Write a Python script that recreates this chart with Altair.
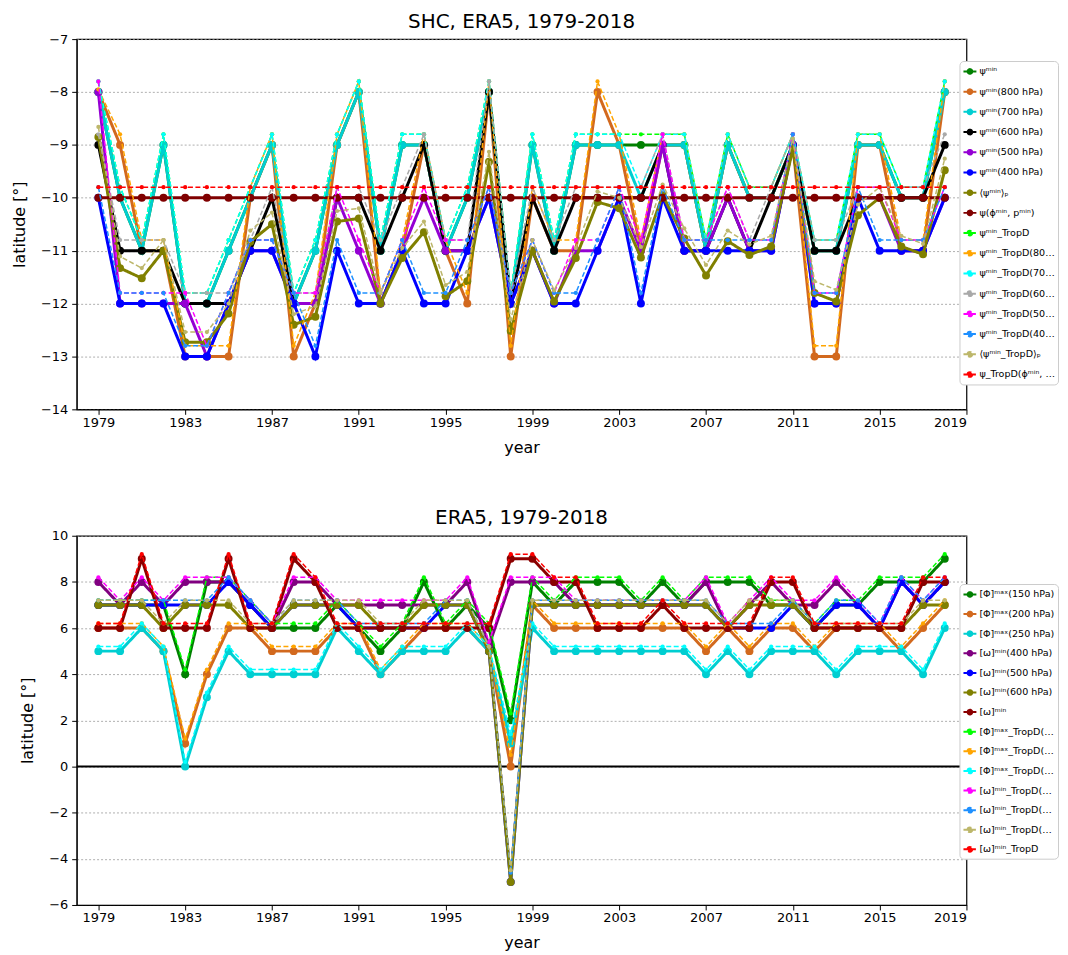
import altair as alt
import pandas as pd

years = list(range(1979, 2019))

# ---------------- top panel (SHC, ERA5) ----------------
top_names = [
    "ψᵐⁱⁿ", "ψᵐⁱⁿ(800 hPa)", "ψᵐⁱⁿ(700 hPa)", "ψᵐⁱⁿ(600 hPa)",
    "ψᵐⁱⁿ(500 hPa)", "ψᵐⁱⁿ(400 hPa)", "⟨ψᵐⁱⁿ⟩ₚ", "ψ(ϕᵐⁱⁿ, pᵐⁱⁿ)",
    "ψᵐⁱⁿ_TropD", "ψᵐⁱⁿ_TropD(800 hPa)", "ψᵐⁱⁿ_TropD(700 hPa)", "ψᵐⁱⁿ_TropD(600 hPa)",
    "ψᵐⁱⁿ_TropD(500 hPa)", "ψᵐⁱⁿ_TropD(400 hPa)", "⟨ψᵐⁱⁿ_TropD⟩ₚ", "ψ_TropD(ϕᵐⁱⁿ, pᵐⁱⁿ)",
]
top_colors = ["#008000", "#d2691e", "#00ced1", "#000000", "#9400d3", "#0000ff", "#808000", "#800000",
              "#00ff00", "#ffa500", "#00ffff", "#a9a9a9", "#ff00ff", "#1e90ff", "#bdb76b", "#ff0000"]
top_dashed = [False] * 8 + [True] * 8

psi_min = [-8, -10, -11, -9, -12, -12, -11, -10, -9, -12,
           -11, -9, -8, -11, -9, -9, -11, -10, -8, -12,
           -9, -11, -9, -9, -9, -9, -9, -9, -11, -9,
           -10, -10, -9, -11, -11, -9, -9, -10, -10, -8]
psi_800 = [-8, -9, -11, -11, -13, -13, -13, -10, -9, -13,
           -12, -9, -8, -12, -11, -9, -11, -12, -8, -13,
           -10, -11, -11, -8, -9, -11, -9, -9, -11, -9,
           -10, -10, -9, -13, -13, -9, -9, -11, -11, -8]
psi_700 = [-8, -10, -11, -9, -12, -12, -11, -10, -9, -12,
           -11, -9, -8, -11, -9, -9, -11, -10, -8, -12,
           -9, -11, -9, -9, -9, -10, -9, -9, -11, -9,
           -10, -10, -9, -11, -11, -9, -9, -10, -10, -8]
psi_600 = [-9, -11, -11, -11, -12, -12, -12, -11, -10, -12,
           -12, -10, -10, -11, -10, -9, -11, -11, -8, -12,
           -10, -11, -10, -10, -10, -10, -9, -11, -11, -10,
           -11, -10, -9, -11, -11, -10, -10, -10, -10, -9]
psi_500 = [-8, -12, -12, -12, -12, -13, -12, -11, -11, -12,
           -12, -10, -11, -12, -11, -10, -11, -11, -10, -12,
           -11, -12, -11, -11, -10, -11, -9, -11, -11, -10,
           -11, -11, -9, -12, -12, -10, -10, -11, -11, -10]
psi_400 = [-10, -12, -12, -12, -13, -13, -12, -11, -11, -12,
           -13, -11, -12, -12, -11, -12, -12, -11, -10, -12,
           -11, -12, -12, -11, -10, -12, -10, -11, -11, -11,
           -11, -11, -9, -12, -12, -10, -11, -11, -11, -10]
psi_p = [-8.85, -11.33, -11.52, -11.0, -12.73, -12.73, -12.19, -10.83, -10.50, -12.40,
         -12.25, -10.45, -10.39, -12.0, -11.14, -10.65, -11.86, -11.58, -9.32, -12.52,
         -11.0, -11.96, -11.14, -10.08, -10.20, -11.13, -9.95, -10.77, -11.47, -10.82,
         -11.08, -10.92, -9.07, -11.80, -11.96, -10.33, -10.0, -10.92, -11.07, -9.48]
psi_phi = [-10, -10, -10, -10, -10, -10, -10, -10, -10, -10,
           -10, -10, -10, -10, -10, -10, -10, -10, -10, -10,
           -10, -10, -10, -10, -10, -10, -10, -10, -10, -10,
           -10, -10, -10, -10, -10, -10, -10, -10, -10, -10]
td_min = [-7.8, -9.8, -10.8, -8.8, -11.8, -11.8, -10.8, -9.8, -8.8, -11.8,
          -10.8, -8.8, -7.8, -10.8, -8.8, -8.8, -10.8, -9.8, -7.8, -11.8,
          -8.8, -10.8, -8.8, -8.8, -8.8, -8.8, -8.8, -8.8, -10.8, -8.8,
          -9.8, -9.8, -8.8, -10.8, -10.8, -8.8, -8.8, -9.8, -9.8, -7.8]
td_800 = [-7.95, -8.8, -10.8, -10.8, -12.8, -12.8, -12.8, -9.8, -8.8, -12.8,
          -11.8, -8.8, -7.8, -11.8, -10.8, -8.8, -10.8, -11.8, -7.8, -12.8,
          -9.8, -10.8, -10.8, -7.8, -8.8, -10.8, -8.8, -8.8, -10.8, -8.8,
          -9.8, -9.8, -8.8, -12.8, -12.8, -8.8, -8.8, -10.8, -10.8, -7.8]
td_700 = [-7.8, -9.8, -10.8, -8.8, -11.8, -11.8, -10.8, -9.8, -8.8, -11.8,
          -10.8, -8.8, -7.8, -10.8, -8.8, -8.8, -10.8, -9.8, -7.8, -11.8,
          -8.8, -10.8, -8.8, -8.8, -8.8, -9.8, -8.8, -8.8, -10.8, -8.8,
          -9.8, -9.8, -8.8, -10.8, -10.8, -8.8, -8.8, -9.8, -9.8, -7.8]
td_600 = [-8.8, -10.8, -10.8, -10.8, -11.8, -11.8, -11.8, -10.8, -9.8, -11.8,
          -11.8, -9.8, -9.8, -10.8, -9.8, -8.8, -10.8, -10.8, -7.8, -11.8,
          -9.8, -10.8, -9.8, -9.8, -9.8, -9.8, -8.8, -10.8, -10.8, -9.8,
          -10.8, -9.8, -8.8, -10.8, -10.8, -9.8, -9.8, -9.8, -9.8, -8.8]
td_500 = [-7.8, -11.8, -11.8, -11.8, -11.8, -12.8, -11.8, -10.8, -10.8, -11.8,
          -11.8, -9.8, -10.8, -11.8, -10.8, -9.8, -10.8, -10.8, -9.8, -11.8,
          -10.8, -11.8, -10.8, -10.8, -9.8, -10.8, -8.8, -10.8, -10.8, -9.8,
          -10.8, -10.8, -8.8, -11.8, -11.8, -9.8, -9.8, -10.8, -10.8, -9.8]
td_400 = [-9.8, -11.8, -11.8, -11.8, -12.8, -12.8, -11.8, -10.8, -10.8, -11.8,
          -12.8, -10.8, -11.8, -11.8, -10.8, -11.8, -11.8, -10.8, -9.8, -11.8,
          -10.8, -11.8, -11.8, -10.8, -9.8, -11.8, -9.8, -10.8, -10.8, -10.8,
          -10.8, -10.8, -8.8, -11.8, -11.8, -9.8, -10.8, -10.8, -10.8, -9.8]
td_p = [-8.66, -11.11, -11.33, -10.80, -12.54, -12.54, -12.0, -10.62, -10.28, -12.2,
        -12.05, -10.25, -10.2, -11.8, -10.95, -10.45, -11.65, -11.4, -9.13, -12.3,
        -10.8, -11.75, -10.95, -9.88, -10.0, -10.93, -9.75, -10.58, -11.27, -10.62,
        -10.88, -10.72, -8.88, -11.58, -11.74, -10.13, -9.8, -10.72, -10.87, -9.26]
td_phi = [-9.8, -9.8, -9.8, -9.8, -9.8, -9.8, -9.8, -9.8, -9.8, -9.8,
          -9.8, -9.8, -9.8, -9.8, -9.8, -9.8, -9.8, -9.8, -9.8, -9.8,
          -9.8, -9.8, -9.8, -9.8, -9.8, -9.8, -9.8, -9.8, -9.8, -9.8,
          -9.8, -9.8, -9.8, -9.8, -9.8, -9.8, -9.8, -9.8, -9.8, -9.8]
top_values = [psi_min, psi_800, psi_700, psi_600, psi_500, psi_400, psi_p, psi_phi,
              td_min, td_800, td_700, td_600, td_500, td_400, td_p, td_phi]

# ---------------- bottom panel (ERA5) ----------------
bot_names = [
    "[Φ]ᵐᵃˣ(150 hPa)", "[Φ]ᵐᵃˣ(200 hPa)", "[Φ]ᵐᵃˣ(250 hPa)", "[ω]ᵐⁱⁿ(400 hPa)",
    "[ω]ᵐⁱⁿ(500 hPa)", "[ω]ᵐⁱⁿ(600 hPa)", "[ω]ᵐⁱⁿ",
    "[Φ]ᵐᵃˣ_TropD(150 hPa)", "[Φ]ᵐᵃˣ_TropD(200 hPa)", "[Φ]ᵐᵃˣ_TropD(250 hPa)",
    "[ω]ᵐⁱⁿ_TropD(400 hPa)", "[ω]ᵐⁱⁿ_TropD(500 hPa)", "[ω]ᵐⁱⁿ_TropD(600 hPa)", "[ω]ᵐⁱⁿ_TropD",
]
bot_colors = ["#008000", "#d2691e", "#00ced1", "#800080", "#0000ff", "#808000", "#8b0000",
              "#00ff00", "#ffa500", "#00ffff", "#ff00ff", "#1e90ff", "#bdb76b", "#ff0000"]
bot_dashed = [False] * 7 + [True] * 7

phi_150 = [7, 7, 7, 7, 4, 8, 8, 7, 6, 6,
           6, 7, 6, 5, 6, 8, 6, 7, 6, 2,
           8, 7, 8, 8, 8, 7, 8, 7, 8, 8,
           8, 7, 7, 6, 7, 7, 8, 8, 8, 9]
phi_200 = [6, 6, 6, 5, 1, 4, 6, 6, 5, 5,
           5, 6, 6, 4, 5, 6, 6, 6, 5, 0,
           7, 6, 6, 6, 6, 6, 6, 6, 5, 6,
           5, 6, 6, 5, 6, 6, 6, 5, 6, 7]
phi_250 = [5, 5, 6, 5, 0, 3, 5, 4, 4, 4,
           4, 6, 5, 4, 5, 5, 5, 6, 5, 1,
           6, 5, 5, 5, 5, 5, 5, 5, 4, 5,
           4, 5, 5, 5, 4, 5, 5, 5, 4, 6]
om_400 = [8, 7, 8, 7, 8, 8, 8, 7, 6, 8,
          8, 7, 7, 7, 7, 7, 7, 8, 5.25, 8,
          8, 8, 7, 7, 7, 7, 7, 7, 8, 6,
          7, 8, 7, 7, 8, 7, 6, 8, 7, 8]
om_500 = [7, 7, 7, 7, 7, 7, 8, 7, 6, 7,
          7, 7, 6, 6, 6, 6, 7, 7, 5, -5,
          7, 7, 7, 7, 7, 7, 7, 7, 7, 6,
          6, 6, 7, 6, 7, 7, 6, 8, 7, 8]
om_600 = [7, 7, 7, 6, 7, 7, 7, 6, 6, 7,
          7, 7, 7, 6, 6, 7, 7, 7, 5, -5,
          7, 7, 7, 7, 7, 7, 7, 7, 7, 6,
          7, 7, 7, 6, 6, 6, 6, 6, 7, 7]
om_min = [6, 6, 9, 6, 6, 6, 9, 6, 6, 9,
          8, 6, 6, 6, 6, 6, 6, 6, 6, 9,
          9, 8, 8, 6, 6, 6, 7, 6, 6, 6,
          6, 8, 8, 6, 6, 6, 6, 6, 8, 8]
tphi_150 = [7.2, 7.2, 7.2, 7.2, 4.2, 8.2, 8.2, 7.2, 6.2, 6.2,
            6.2, 7.2, 6.2, 5.2, 6.2, 8.2, 6.2, 7.2, 6.2, 2.3,
            8.2, 7.2, 8.2, 8.2, 8.2, 7.2, 8.2, 7.2, 8.2, 8.2,
            8.2, 7.2, 7.2, 6.2, 7.2, 7.2, 8.2, 8.2, 8.2, 9.2]
tphi_200 = [6.2, 6.2, 6.2, 5.2, 1.2, 4.2, 6.2, 6.2, 5.2, 5.2,
            5.2, 6.2, 6.2, 4.2, 5.2, 6.2, 6.2, 6.2, 5.2, 0.5,
            7.2, 6.2, 6.2, 6.2, 6.2, 6.2, 6.2, 6.2, 5.2, 6.2,
            5.2, 6.2, 6.2, 5.2, 6.2, 6.2, 6.2, 5.2, 6.2, 7.2]
tphi_250 = [5.2, 5.2, 6.2, 5.2, 0.2, 3.2, 5.2, 4.2, 4.2, 4.2,
            4.2, 6.2, 5.2, 4.2, 5.2, 5.2, 5.2, 6.2, 5.2, 1.4,
            6.2, 5.2, 5.2, 5.2, 5.2, 5.2, 5.2, 5.2, 4.2, 5.2,
            4.2, 5.2, 5.2, 5.2, 4.2, 5.2, 5.2, 5.2, 4.2, 6.2]
tom_400 = [8.2, 7.2, 8.2, 7.2, 8.2, 8.2, 8.2, 7.2, 6.2, 8.2,
           8.2, 7.2, 7.2, 7.2, 7.2, 7.2, 7.2, 8.2, 5.4, 8.2,
           8.2, 8.2, 7.2, 7.2, 7.2, 7.2, 7.2, 7.2, 8.2, 6.2,
           7.2, 8.2, 7.2, 7.2, 8.2, 7.2, 6.2, 8.2, 7.2, 8.2]
tom_500 = [7.2, 7.2, 7.2, 7.2, 7.2, 7.2, 8.2, 7.2, 6.2, 7.2,
           7.2, 7.2, 6.2, 6.2, 6.2, 6.2, 7.2, 7.2, 5.2, -4.6,
           7.2, 7.2, 7.2, 7.2, 7.2, 7.2, 7.2, 7.2, 7.2, 6.2,
           6.2, 6.2, 7.2, 6.2, 7.2, 7.2, 6.2, 8.2, 7.2, 8.2]
tom_600 = [7.2, 7.2, 7.2, 6.2, 7.2, 7.2, 7.2, 6.2, 6.2, 7.2,
           7.2, 7.2, 7.2, 6.2, 6.2, 7.2, 7.2, 7.2, 5.2, -4.5,
           7.2, 7.2, 7.2, 7.2, 7.2, 7.2, 7.2, 7.2, 7.2, 6.2,
           7.2, 7.2, 7.2, 6.2, 6.2, 6.2, 6.2, 6.2, 7.2, 7.2]
tom_min = [6.2, 6.2, 9.2, 6.2, 6.2, 6.2, 9.2, 6.2, 6.2, 9.2,
           8.2, 6.2, 6.2, 6.2, 6.2, 6.2, 6.2, 6.2, 6.2, 9.2,
           9.2, 8.2, 8.2, 6.2, 6.2, 6.2, 7.2, 6.2, 6.2, 6.2,
           6.2, 8.2, 8.2, 6.2, 6.2, 6.2, 6.2, 6.2, 8.2, 8.2]
bot_values = [phi_150, phi_200, phi_250, om_400, om_500, om_600, om_min,
              tphi_150, tphi_200, tphi_250, tom_400, tom_500, tom_600, tom_min]

x_ticks = [1979, 1983, 1987, 1991, 1995, 1999, 2003, 2007, 2011, 2015, 2019]
top_yticks = [-14, -13, -12, -11, -10, -9, -8, -7]
bot_yticks = [-6, -4, -2, 0, 2, 4, 6, 8, 10]

SYM = "M-1,0L1,0M-0.36,0A0.36,0.36,0,1,1,0.36,0A0.36,0.36,0,1,1,-0.36,0Z"


def panel(names, colors, dashed, values, ydom, yticks, title, leg_y, row_pad, height, zero_line=False):
    rows = []
    for n, vals in zip(names, values):
        for yr, v in zip(years, vals):
            rows.append({"year": yr, "value": v, "series": n})
    df = pd.DataFrame(rows)
    cscale = alt.Scale(domain=names, range=colors)
    dscale = alt.Scale(domain=names, range=[[5, 2.5] if d else [1, 0] for d in dashed])
    legend = alt.Legend(title=None, orient="none", legendX=887, legendY=leg_y,
                        symbolType=SYM, symbolSize=169, rowPadding=row_pad,
                        symbolStrokeWidth=2, labelLimit=76, labelOffset=2, padding=3)
    X = alt.X("year:Q", scale=alt.Scale(domain=[1978, 2019], nice=False, zero=False),
              axis=alt.Axis(values=x_ticks, format="d", title="year", grid=False,
                            labelPadding=2, titlePadding=10))
    Y = alt.Y("value:Q", scale=alt.Scale(domain=ydom, nice=False, zero=False),
              axis=alt.Axis(values=yticks, format="d", title="latitude [°]", grid=True,
                            labelPadding=4, titlePadding=13))
    layers = []
    if zero_line:
        layers.append(alt.Chart(pd.DataFrame({"z": [0]})).mark_rule(color="black", strokeWidth=2)
                      .encode(y=alt.datum(0)))
    for n, d in zip(names, dashed):
        b = alt.Chart(df).transform_filter(alt.FieldEqualPredicate(field="series", equal=n))
        layers.append(b.mark_line(strokeCap="butt", strokeWidth=1.5 if d else 3).encode(
            x=X, y=Y,
            color=alt.Color("series:N", scale=cscale, legend=legend),
            strokeDash=alt.StrokeDash("series:N", scale=dscale, legend=legend)))
        layers.append(b.mark_circle(opacity=1, size=18 if d else 64).encode(
            x=X, y=Y,
            color=alt.Color("series:N", scale=cscale, legend=legend)))
    return alt.layer(*layers).properties(
        width=894, height=height,
        title=alt.TitleParams(title, fontSize=20, fontWeight="normal", anchor="middle", offset=1.5))


top = panel(top_names, top_colors, top_dashed, top_values, [-14, -7], top_yticks,
            "SHC, ERA5, 1979-2018", 22, 6.3, 372)
bot = panel(bot_names, bot_colors, bot_dashed, bot_values, [-6, 10], bot_yticks,
            "ERA5, 1979-2018", 48.5, 5.7, 371, zero_line=True)

chart = alt.vconcat(top, bot, spacing=51).resolve_scale(
    x="independent", y="independent", color="independent", strokeDash="independent"
).resolve_legend(color="independent", strokeDash="independent").properties(
    padding={"left": 2, "top": 0, "right": 0, "bottom": 0}
).configure(font="DejaVu Sans").configure_axis(
    labelFontSize=13, titleFontSize=16, titleFontWeight="normal", labelColor="black",
    titleColor="black", domainColor="black", tickColor="black", tickSize=5,
    gridColor="#9a9a9a", gridDash=[2, 2], gridWidth=0.8
).configure_view(stroke="black", strokeWidth=1.2).configure_legend(
    fillColor="white", strokeColor="#cccccc", cornerRadius=4,
    labelFontSize=9.6, labelColor="black"
).configure_title(font="DejaVu Sans", color="black")

chart.save("out.html", embed_options={"renderer": "svg", "actions": False})
